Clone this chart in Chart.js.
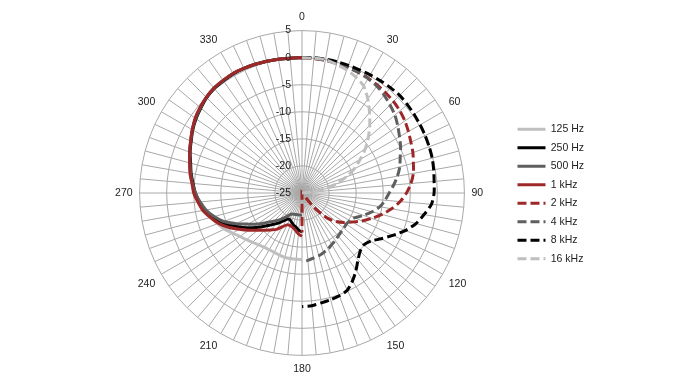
<!DOCTYPE html>
<html>
<head>
<meta charset="utf-8">
<script src="https://cdn.jsdelivr.net/npm/chart.js@4/dist/chart.umd.min.js"></script>
<style>
  html, body { margin: 0; padding: 0; background: #fff; }
  #wrap { width: 686px; height: 390px; }
</style>
</head>
<body>
<div id="wrap"><canvas id="polarChart" width="686" height="390"></canvas></div>
<script>
// angle categories, one spoke every 5 degrees (clockwise from the top)
const angles = [0, 5, 10, 15, 20, 25, 30, 35, 40, 45, 50, 55, 60, 65, 70, 75, 80, 85,
    90, 95, 100, 105, 110, 115, 120, 125, 130, 135, 140, 145, 150, 155, 160, 165, 170, 175,
    180, 185, 190, 195, 200, 205, 210, 215, 220, 225, 230, 235, 240, 245, 250, 255, 260, 265,
    270, 275, 280, 285, 290, 295, 300, 305, 310, 315, 320, 325, 330, 335, 340, 345, 350, 355];

// left half (solid curves) runs 180 -> 355 -> 0, right half (dashed curves) runs 0 -> 180
const leftAngles = [180, 185, 190, 195, 200, 205, 210, 215, 220, 225, 230, 235, 240, 245, 250,
    255, 260, 265, 270, 275, 280, 285, 290, 295, 300, 305, 310, 315, 320, 325, 330, 335, 340,
    345, 350, 355, 0];
const rightAngles = [0, 5, 10, 15, 20, 25, 30, 35, 40, 45, 50, 55, 60, 65, 70, 75, 80, 85, 90,
    95, 100, 105, 110, 115, 120, 125, 130, 135, 140, 145, 150, 155, 160, 165, 170, 175, 180];

// level in dB
const hz125 = [-12.7, -12.7, -12.7, -12.7, -12.8, -12.9, -12.9, -12.8, -12.5, -12.1, -11.6, -11.0,
    -10.2, -9.2, -8.4, -7.6, -6.6, -5.8, -5.1, -4.6, -4.0, -3.5, -2.9, -2.3, -1.6, -1.0, -0.5,
    0.0, 0.3, 0.4, 0.5, 0.4, 0.3, 0.2, 0.1, 0.0, 0.0];
const hz250 = [-17.8, -18.1, -18.6, -18.9, -19.3, -19.6, -19.4, -18.6, -17.6, -16.6, -15.3, -13.8,
    -12.3, -10.8, -9.0, -7.9, -6.8, -6.0, -5.3, -4.8, -4.2, -3.7, -3.0, -2.4, -1.7, -1.1, -0.6,
    -0.1, 0.2, 0.3, 0.4, 0.4, 0.3, 0.2, 0.1, 0.0, 0.0];
const hz500 = [-20.9, -20.9, -20.9, -20.9, -20.8, -20.7, -20.3, -19.5, -18.5, -17.6, -16.5, -15.0,
    -13.5, -11.6, -9.6, -8.2, -7.0, -6.1, -5.3, -4.7, -4.1, -3.6, -2.9, -2.3, -1.6, -1.0, -0.5,
    0.0, 0.3, 0.4, 0.5, 0.4, 0.3, 0.2, 0.1, 0.0, 0.0];
const khz1 = [-17.0, -17.4, -18.0, -18.4, -18.6, -18.5, -17.8, -16.8, -16.1, -15.3, -14.3, -13.0,
    -11.6, -10.0, -8.6, -7.5, -6.4, -5.7, -5.0, -4.6, -4.0, -3.5, -2.9, -2.3, -1.6, -0.9, -0.4,
    0.0, 0.3, 0.4, 0.5, 0.4, 0.3, 0.2, 0.1, 0.0, 0.0];
const khz2 = [0.0, -0.1, -0.1, -0.2, -0.3, -0.4, -0.5, -0.7, -0.9, -1.1, -1.4, -1.8, -2.3, -2.8,
    -3.2, -3.7, -4.1, -4.8, -5.7, -6.8, -8.2, -9.7, -11.3, -12.8, -14.3, -15.5, -16.8, -18.5,
    -21.5, -25, -25, -25, -25, -25, -25, -25, -17.7];
const khz4 = [0.0, 0.0, -0.1, -0.2, -0.3, -0.4, -0.6, -0.9, -1.4, -2.0, -2.6, -3.4, -4.2, -4.9,
    -5.7, -6.3, -7.1, -8.0, -8.9, -9.6, -10.4, -11.6, -12.9, -14.2, -14.8, -15.0, -14.9, -14.8,
    -14.6, -14.3, -14.0, -13.6, -13.3, -13.0, -12.8, -12.5, -12.4];
const khz8 = [0.0, 0.1, 0.1, 0.1, 0.1, 0.1, 0.2, 0.3, 0.4, 0.5, 0.4, 0.3, 0.2, 0.1, 0.0, -0.1,
    -0.3, -0.5, -0.6, -1.0, -2.1, -3.2, -4.7, -6.5, -8.1, -9.5, -10.1, -9.8, -8.9, -7.6, -6.3,
    -5.2, -4.8, -4.6, -4.4, -4.1, -4.0];
const khz16 = [0.0, 0.0, 0.0, -0.4, -0.8, -1.4, -2.2, -3.8, -5.6, -7.3, -9.0, -10.7, -12.6, -14.3,
    -16.3, -18.4, -20.8, -23.5, -25, -25, -25, -25, -25, -25, -25, -25, -25, -25, -25, -25, -25,
    -25, -25, -25, -25, -25, -25];

const radialTicks = [5, 0, -5, -10, -15, -20, -25];

// put a half-plot onto the full 72 spoke circle, leaving the other half empty
function onCircle(halfAngles, values) {
    return angles.map(a => {
        const i = halfAngles.indexOf(a);
        return i >= 0 ? values[i] : null;
    });
}

const series = [
    {label: '125 Hz', angles: leftAngles, values: hz125, color: '#bfbfbf', dash: []},
    {label: '250 Hz', angles: leftAngles, values: hz250, color: '#000000', dash: []},
    {label: '500 Hz', angles: leftAngles, values: hz500, color: '#5f5f5f', dash: []},
    {label: '1 kHz', angles: leftAngles, values: khz1, color: '#9e2828', dash: []},
    {label: '2 kHz', angles: rightAngles, values: khz2, color: '#9e2828', dash: [9, 4]},
    {label: '4 kHz', angles: rightAngles, values: khz4, color: '#5f5f5f', dash: [9, 4]},
    {label: '8 kHz', angles: rightAngles, values: khz8, color: '#000000', dash: [9, 4]},
    {label: '16 kHz', angles: rightAngles, values: khz16, color: '#bfbfbf', dash: [9, 4]}
];

const fontFamily = '"Liberation Sans", Arial, sans-serif';
Chart.defaults.font.family = fontFamily;
Chart.defaults.font.size = 10.5;
Chart.defaults.color = '#222';

// dB labels sit just left of the vertical spoke, like the spreadsheet original
const axisValueLabels = {
    id: 'axisValueLabels',
    afterDatasetsDraw(chart) {
        const scale = chart.scales.r;
        const ctx = chart.ctx;
        ctx.save();
        ctx.font = '10.5px ' + fontFamily;
        ctx.fillStyle = '#222';
        ctx.textAlign = 'right';
        ctx.textBaseline = 'middle';
        radialTicks.forEach(v => {
            const d = scale.getDistanceFromCenterForValue(v);
            ctx.fillText(String(v), scale.xCenter - 11, scale.yCenter - d);
        });
        ctx.restore();
    }
};

const ctx = document.getElementById('polarChart').getContext('2d');
const chart = new Chart(ctx, {
    type: 'radar',
    data: {
        labels: angles,
        datasets: series.map((s, i) => ({
            label: s.label,
            data: onCircle(s.angles, s.values),
            borderColor: s.color,
            backgroundColor: s.color,
            borderWidth: 3,
            borderDash: s.dash,
            pointRadius: 0,
            pointHoverRadius: 0,
            tension: 0.25,
            fill: false,
            spanGaps: false,
            order: series.length - i
        }))
    },
    options: {
        responsive: false,
        animation: false,
        layout: {padding: {left: 96, right: 92, top: 12, bottom: 14}},
        plugins: {
            tooltip: {enabled: false},
            legend: {
                position: 'right',
                labels: {
                    usePointStyle: true,
                    pointStyle: 'line',
                    pointStyleWidth: 28,
                    padding: 8,
                    color: '#222',
                    font: {size: 10.5},
                    sort: (a, b) => a.datasetIndex - b.datasetIndex,
                    // point style drops the dash, so copy it back from the dataset
                    generateLabels(chart) {
                        const items = Chart.defaults.plugins.legend.labels.generateLabels(chart);
                        items.forEach(item => {
                            const ds = chart.data.datasets[item.datasetIndex];
                            item.lineDash = ds.borderDash;
                            item.lineWidth = 3;
                            item.strokeStyle = ds.borderColor;
                        });
                        return items;
                    }
                }
            }
        },
        scales: {
            r: {
                min: -25,
                max: 5,
                ticks: {display: false, stepSize: 5},
                grid: {circular: false, color: '#a8a8a8', lineWidth: 1},
                angleLines: {color: '#a8a8a8', lineWidth: 1},
                pointLabels: {
                    padding: 7,
                    color: '#222',
                    font: {size: 10.5},
                    callback: (label) => label % 30 === 0 ? String(label) : ''
                }
            }
        }
    },
    plugins: [axisValueLabels]
});
</script>
</body>
</html>
